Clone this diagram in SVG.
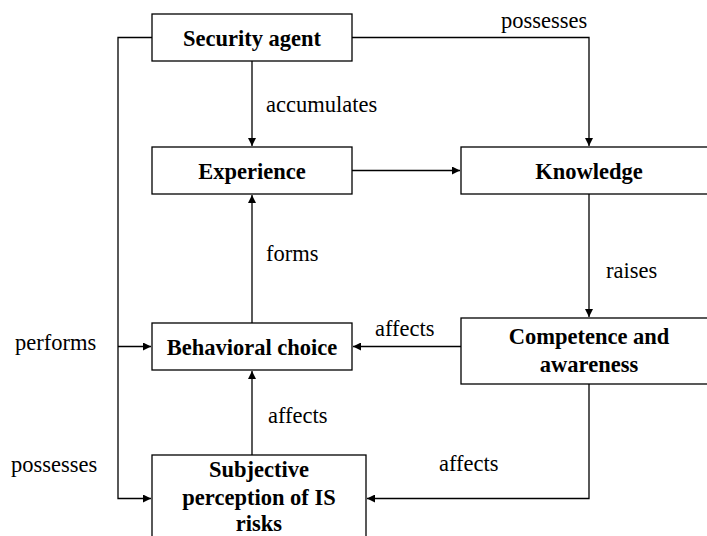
<svg xmlns="http://www.w3.org/2000/svg" width="707" height="536" viewBox="0 0 707 536">
<style>
.box{fill:#fff;stroke:#000;stroke-width:1.3}
.lbl{font-family:'Liberation Serif','DejaVu Serif',serif;font-size:22.5px;fill:#000}
.nt{font-family:'Liberation Serif','DejaVu Serif',serif;font-size:22.5px;font-weight:bold;fill:#000;text-anchor:middle}
.ln{fill:none;stroke:#000;stroke-width:1.3}
</style>
<defs>
<marker id="ah" viewBox="0 0 10 10" refX="10" refY="5" markerWidth="8" markerHeight="8" markerUnits="userSpaceOnUse" orient="auto">
<path d="M0,0 L10,5 L0,10 z" fill="#000"/>
</marker>
</defs>
<rect width="707" height="536" fill="#fff"/>
<g id="connectors">
<path class="ln" d="M252,61 V146" marker-end="url(#ah)"/>
<path class="ln" d="M352,37.5 H589 V146" marker-end="url(#ah)"/>
<path class="ln" d="M352,170.5 H460" marker-end="url(#ah)"/>
<path class="ln" d="M589,194 V317" marker-end="url(#ah)"/>
<path class="ln" d="M461,346.5 H353" marker-end="url(#ah)"/>
<path class="ln" d="M252,323 V195" marker-end="url(#ah)"/>
<path class="ln" d="M252,455 V371" marker-end="url(#ah)"/>
<path class="ln" d="M152,37.5 H118 V498.5 H151" marker-end="url(#ah)"/>
<path class="ln" d="M118,346.5 H151" marker-end="url(#ah)"/>
<path class="ln" d="M589,384 V498.5 H367" marker-end="url(#ah)"/>
<text class="lbl" x="266" y="112">accumulates</text>
<text class="lbl" x="501" y="28">possesses</text>
<text class="lbl" x="266" y="261">forms</text>
<text class="lbl" x="606" y="278">raises</text>
<text class="lbl" x="375" y="336">affects</text>
<text class="lbl" x="15" y="350">performs</text>
<text class="lbl" x="268" y="423">affects</text>
<text class="lbl" x="11" y="472">possesses</text>
<text class="lbl" x="439" y="471">affects</text>
</g>
<g id="security-agent">
<rect class="box" x="152" y="14" width="200" height="47"/>
<text class="nt" x="252" y="45.5">Security agent</text>
</g>
<g id="experience">
<rect class="box" x="152" y="147" width="200" height="47"/>
<text class="nt" x="252" y="178.5">Experience</text>
</g>
<g id="knowledge">
<rect class="box" x="461" y="147" width="256" height="47"/>
<text class="nt" x="589" y="178.5">Knowledge</text>
</g>
<g id="competence">
<rect class="box" x="461" y="318" width="256" height="66"/>
<text class="nt" x="589" y="344">Competence and</text>
<text class="nt" x="589" y="372">awareness</text>
</g>
<g id="behavioral-choice">
<rect class="box" x="152" y="323" width="200" height="47"/>
<text class="nt" x="252" y="355">Behavioral choice</text>
</g>
<g id="subjective-perception">
<rect class="box" x="152" y="455" width="214" height="100"/>
<text class="nt" x="259" y="477">Subjective</text>
<text class="nt" x="259" y="505">perception of IS</text>
<text class="nt" x="259" y="531">risks</text>
</g>
</svg>
